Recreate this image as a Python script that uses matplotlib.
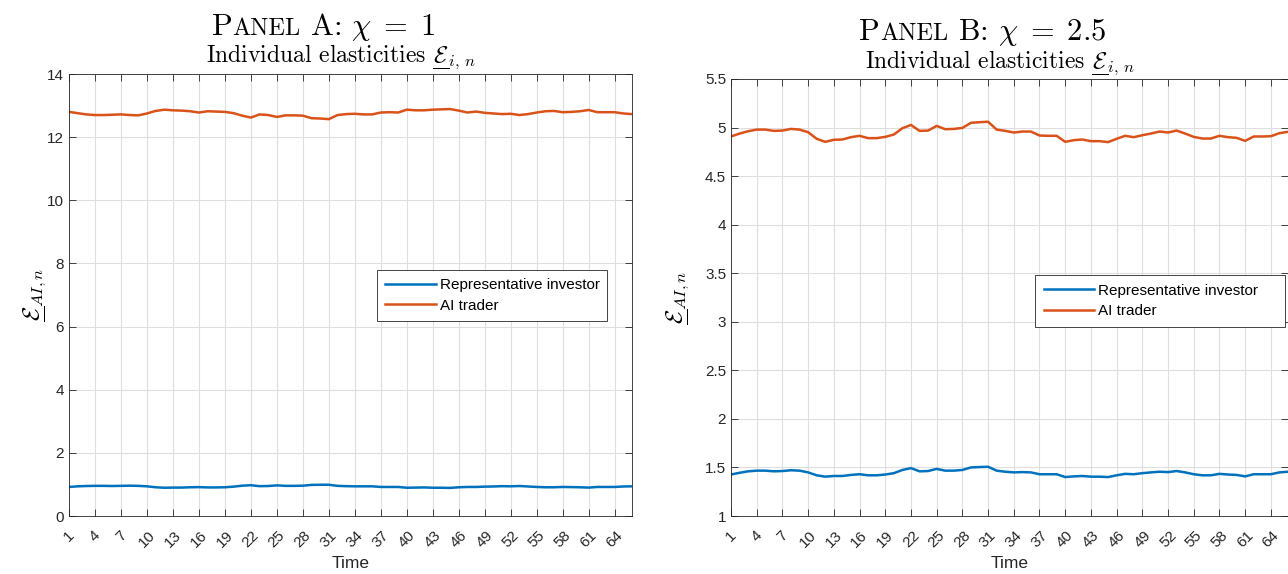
import numpy as np
import matplotlib
matplotlib.use("Agg")
import matplotlib.pyplot as plt
from matplotlib.offsetbox import TextArea, HPacker, AnchoredOffsetbox

plt.rcParams['font.family'] = ['Liberation Sans', 'DejaVu Sans']
plt.rcParams['mathtext.fontset'] = 'cm'

# time index and tick labels
time = np.arange(1, 67)
xticks = np.arange(1, 65, 3)

# Panel A (chi = 1)
rep_a = [0.92, 0.94, 0.95, 0.955, 0.955, 0.95, 0.955, 0.96, 0.955, 0.94,
         0.91, 0.895, 0.90, 0.90, 0.91, 0.915, 0.905, 0.905, 0.91, 0.93,
         0.96, 0.975, 0.945, 0.95, 0.97, 0.955, 0.955, 0.96, 0.985, 0.99,
         0.99, 0.955, 0.945, 0.94, 0.94, 0.94, 0.92, 0.92, 0.92, 0.895,
         0.90, 0.905, 0.895, 0.895, 0.89, 0.91, 0.92, 0.92, 0.93, 0.935,
         0.945, 0.94, 0.95, 0.935, 0.92, 0.91, 0.91, 0.92, 0.915, 0.91,
         0.90, 0.92, 0.92, 0.92, 0.935, 0.94]
ai_a = [12.80, 12.76, 12.72, 12.70, 12.70, 12.71, 12.72, 12.70, 12.69, 12.75,
        12.83, 12.87, 12.85, 12.84, 12.82, 12.78, 12.82, 12.81, 12.80, 12.76,
        12.68, 12.62, 12.72, 12.70, 12.64, 12.69, 12.69, 12.68, 12.60, 12.59,
        12.57, 12.70, 12.73, 12.74, 12.72, 12.72, 12.78, 12.79, 12.78, 12.87,
        12.85, 12.85, 12.87, 12.88, 12.89, 12.84, 12.78, 12.81, 12.77, 12.75,
        12.73, 12.74, 12.70, 12.73, 12.78, 12.82, 12.83, 12.79, 12.80, 12.82,
        12.86, 12.79, 12.79, 12.79, 12.75, 12.73]

# Panel B (chi = 2.5)
rep_b = [1.427, 1.445, 1.460, 1.467, 1.467, 1.460, 1.463, 1.471, 1.467, 1.449,
         1.419, 1.405, 1.412, 1.412, 1.423, 1.430, 1.419, 1.419, 1.427, 1.441,
         1.474, 1.493, 1.460, 1.463, 1.485, 1.467, 1.467, 1.474, 1.500, 1.504,
         1.507, 1.467, 1.456, 1.449, 1.452, 1.449, 1.430, 1.430, 1.430, 1.401,
         1.408, 1.412, 1.405, 1.405, 1.401, 1.419, 1.434, 1.430, 1.441, 1.449,
         1.456, 1.452, 1.463, 1.449, 1.430, 1.419, 1.419, 1.434, 1.427, 1.423,
         1.408, 1.430, 1.430, 1.430, 1.449, 1.456]
ai_b = [4.908, 4.938, 4.962, 4.979, 4.979, 4.966, 4.969, 4.986, 4.979, 4.952,
        4.884, 4.853, 4.874, 4.877, 4.901, 4.915, 4.891, 4.891, 4.904, 4.928,
        4.993, 5.027, 4.966, 4.969, 5.017, 4.983, 4.986, 4.996, 5.049, 5.055,
        5.060, 4.979, 4.966, 4.949, 4.959, 4.959, 4.918, 4.915, 4.915, 4.853,
        4.870, 4.877, 4.860, 4.860, 4.850, 4.884, 4.915, 4.901, 4.921, 4.938,
        4.959, 4.949, 4.969, 4.938, 4.904, 4.887, 4.887, 4.915, 4.901, 4.894,
        4.863, 4.908, 4.908, 4.911, 4.942, 4.956]

dark = '#262626'
blue = '#0072BD'
orange = '#D95319'

# underlined calligraphic E (mathtext has no \underline)
E_ul = r'\underset{\overline{\quad}}{\mathcal{E}}'

fig = plt.figure(figsize=(12.88, 5.74), dpi=100, facecolor='white')


def panel(rect, rep, ai, ylim, yticks, letter, chi, leg_box, title_y, sub_y, ylpad):
    ax = fig.add_axes(rect)
    ax.plot(time, rep, color=blue, lw=1.8, label='Representative investor')
    ax.plot(time, ai, color=orange, lw=1.8, label='AI trader')
    ax.set_xlim(1, 66)
    ax.set_ylim(*ylim)
    ax.set_xticks(xticks)
    ax.set_yticks(yticks)
    ax.set_yticklabels([f"{v:g}" for v in yticks])
    ax.tick_params(direction='in', top=True, right=True, length=5, width=0.6,
                   colors=dark, labelsize=11)
    ax.tick_params(axis='x', pad=9)
    plt.setp(ax.get_xticklabels(), rotation=45, ha='center', va='top')
    ax.grid(True, color='#dedede', lw=0.8)
    for s in ax.spines.values():
        s.set_color(dark)
        s.set_linewidth(0.6)
    ax.set_xlabel('Time', fontsize=12.5, color=dark, labelpad=4)
    ax.set_ylabel('$' + E_ul + '_{AI,n}$', fontsize=17, labelpad=ylpad)

    leg = ax.legend(loc='upper left', bbox_to_anchor=leg_box, mode='expand',
                    fontsize=11, handlelength=3.3, handletextpad=0.28,
                    labelspacing=0.43, borderpad=0.55, borderaxespad=0,
                    fancybox=False, framealpha=1)
    leg.get_frame().set_edgecolor(dark)
    leg.get_frame().set_linewidth(0.6)

    # small-caps style panel title
    parts = [TextArea('P', textprops=dict(fontsize=22, family='cmr10')),
             TextArea('ANEL', textprops=dict(fontsize=17.5, family='cmr10')),
             TextArea(f' {letter}: $\\chi\\;=\\;{chi}$',
                      textprops=dict(fontsize=22, family='cmr10'))]
    box = HPacker(children=parts, align='baseline', pad=0, sep=0)
    ab = AnchoredOffsetbox(loc='lower center', child=box, pad=0, borderpad=0,
                           frameon=False, bbox_to_anchor=(0.452, title_y),
                           bbox_transform=ax.transAxes)
    ax.add_artist(ab)
    ax.text(0.483, sub_y, 'Individual elasticities $' + E_ul + r'_{i,\,n}$',
            family='cmr10', fontsize=17, ha='center', va='baseline',
            transform=ax.transAxes)
    return ax


panel([69 / 1288, 58 / 574, 563 / 1288, 442 / 574], rep_a, ai_a, (0, 14),
      np.arange(0, 15, 2), 'A', '1', (0.547, 0.446, 0.409, 0.111),
      1.071, 1.0294, 0)
panel([731 / 1288, 58 / 574, 557 / 1288, 437 / 574], rep_b, ai_b, (1, 5.5),
      np.arange(1, 5.6, 0.5), 'B', '2.5', (0.546, 0.446, 0.449, 0.105),
      1.072, 1.0297, 11)

fig.savefig('out.png', dpi=100, facecolor='white')
